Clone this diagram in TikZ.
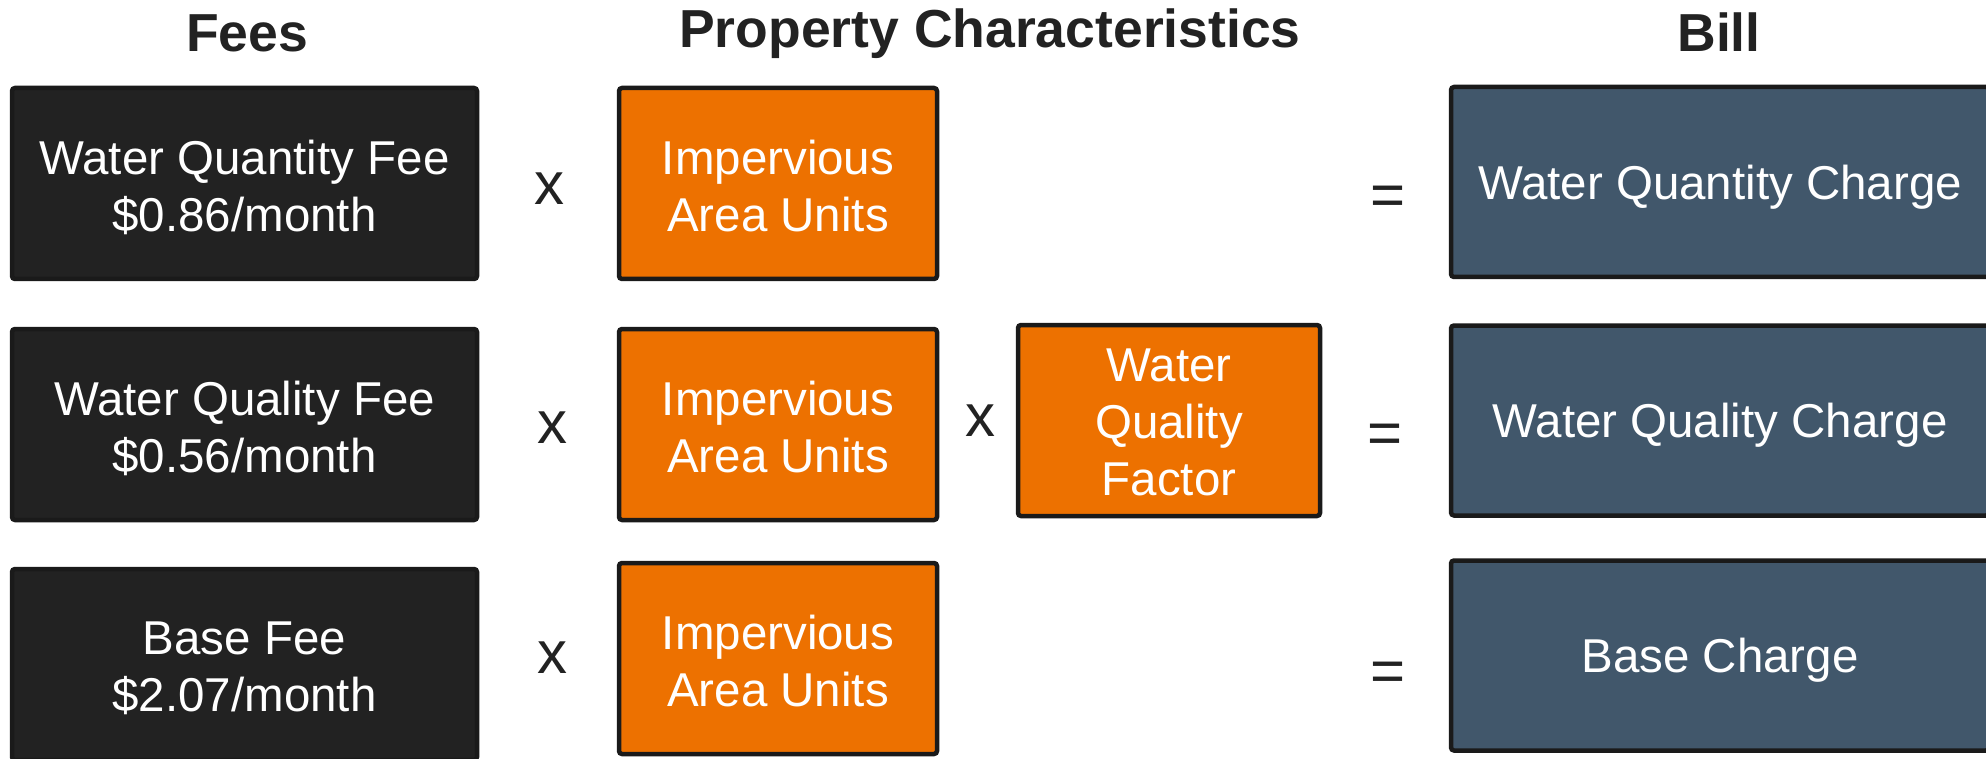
\documentclass[tikz,border=0pt]{standalone}
\usepackage{fontspec}
\setmainfont{Liberation Sans}
\definecolor{feefill}{HTML}{222222}
\definecolor{edge}{HTML}{1A1A1A}
\definecolor{orng}{HTML}{ED7100}
\definecolor{slate}{HTML}{41576B}
\definecolor{ink}{HTML}{222222}
\begin{document}
\begin{tikzpicture}[x=1pt,y=-1pt,
  basebox/.style={draw=edge, line width=4.5pt, rounded corners=3pt, inner sep=0pt},
  feebox/.style={basebox, fill=feefill, minimum width=465pt, minimum height=191pt},
  propbox/.style={basebox, fill=orng, minimum width=318pt, minimum height=191pt},
  wqfbox/.style={basebox, fill=orng, minimum width=302pt, minimum height=191pt},
  billbox/.style={basebox, fill=slate, minimum width=538pt, minimum height=190pt},
  boxtext/.style={inner sep=0pt, text=white, align=center, font=\fontsize{47.5}{57}\selectfont},
  header/.style={anchor=base, text=ink, font=\fontsize{53.5}{60}\selectfont\bfseries},
  opsign/.style={anchor=base, text=ink, inner sep=0pt, font=\fontsize{60}{60}\selectfont}]
\useasboundingbox (0,0) rectangle (1986,759);
\clip (0,0) rectangle (1986,759);
\fill[white] (0,0) rectangle (1986,759);
% headers
\node[header] (hfees) at (247,52) {Fees};
\node[header] (hprop) at (990,48) {Property Characteristics};
\node[header] (hbill) at (1719,52) {Bill};
% fee boxes
\node[feebox] (fee1) at (244.5,183.5) {};
\node[feebox] (fee2) at (244.5,424.5) {};
\node[feebox] (fee3) at (244.5,664.5) {};
\node[boxtext] (tfee1) at ([yshift=-3.5pt]fee1.center) {Water Quantity Fee\\\$0.86/month};
\node[boxtext] (tfee2) at ([yshift=-3.5pt]fee2.center) {Water Quality Fee\\\$0.56/month};
\node[boxtext] (tfee3) at ([yshift=-3.5pt]fee3.center) {Base Fee\\\$2.07/month};
% property boxes
\node[propbox] (imp1) at (778,183.5) {};
\node[propbox] (imp2) at (778,424.5) {};
\node[propbox] (imp3) at (778,658.5) {};
\node[wqfbox] (wqf) at (1169,420.5) {};
\node[boxtext] (timp1) at ([yshift=-3pt]imp1.center) {Impervious\\Area Units};
\node[boxtext] (timp2) at ([yshift=-3pt]imp2.center) {Impervious\\Area Units};
\node[boxtext] (timp3) at ([yshift=-3pt]imp3.center) {Impervious\\Area Units};
\node[boxtext] (twqf) at ([yshift=-2pt]wqf.center) {Water\\Quality\\Factor};
% bill boxes
\node[billbox] (bill1) at (1720,182) {};
\node[billbox] (bill2) at (1720,420.5) {};
\node[billbox] (bill3) at (1720,655.5) {};
\node[boxtext] (tbill1) at ([yshift=-5pt]bill1.center) {Water Quantity Charge};
\node[boxtext] (tbill2) at ([yshift=-5pt]bill2.center) {Water Quality Charge};
\node[boxtext] (tbill3) at ([yshift=-5pt]bill3.center) {Base Charge};
% operators
\node[opsign] (x1) at (549,205) {x};
\node[opsign] (x2) at (552,443) {x};
\node[opsign] (x2b) at (980,436) {x};
\node[opsign] (x3) at (552,673) {x};
\node[opsign] (eq1) at (1388,216) {=};
\node[opsign] (eq2) at (1385,453) {=};
\node[opsign] (eq3) at (1388,691) {=};
\end{tikzpicture}
\end{document}
